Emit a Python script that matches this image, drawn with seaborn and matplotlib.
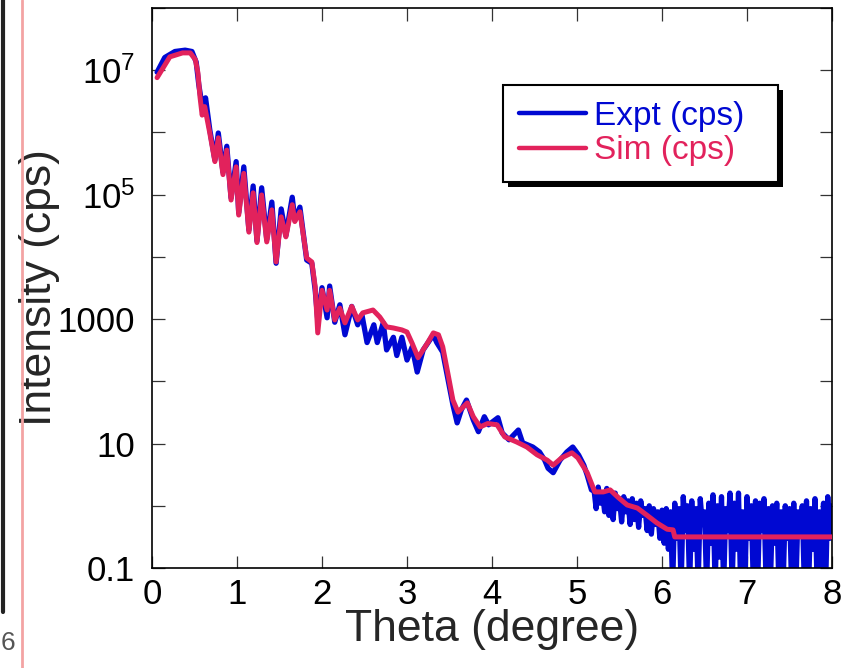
import numpy as np
import pandas as pd
import matplotlib
matplotlib.use("Agg")
import matplotlib.pyplot as plt
import seaborn as sns
from matplotlib.patches import Rectangle
from matplotlib.lines import Line2D
from matplotlib.transforms import IdentityTransform
from matplotlib.ticker import FixedLocator, FixedFormatter

# ---------------- data ----------------
sim_theta = [0.06, 0.21, 0.36, 0.45, 0.51, 0.54, 0.565, 0.59, 0.62, 0.68,
             0.74, 0.78, 0.835, 0.88, 0.93, 0.99, 1.02, 1.08, 1.14, 1.19,
             1.235, 1.29, 1.35, 1.41, 1.46, 1.52, 1.575, 1.65, 1.68, 1.74,
             1.82, 1.88, 1.92, 1.95, 2.00, 2.06, 2.09, 2.15, 2.21, 2.27,
             2.35, 2.42, 2.48, 2.60, 2.68, 2.76, 2.84, 2.94, 3.00, 3.06,
             3.13, 3.24, 3.31, 3.37, 3.42, 3.48, 3.54, 3.60, 3.71, 3.78,
             3.86, 3.95, 4.06, 4.15, 4.29, 4.41, 4.53, 4.65, 4.72, 4.82,
             4.94, 5.01, 5.12, 5.21, 5.31, 5.39, 5.48, 5.59, 5.71, 5.82,
             5.94, 6.06, 6.13, 6.15, 8.00]
sim_cps = [7.6e6, 1.64e7, 1.9e7, 1.9e7, 1.48e7, 9.1e6, 3.7e6, 1.9e6, 2.6e6, 9.8e5,
           3.4e5, 8.2e5, 2.1e5, 5.2e5, 8.2e4, 2.8e5, 4.7e4, 2.2e5, 2.5e4, 1.07e5,
           1.7e4, 9.9e4, 1.74e4, 5.7e4, 8.3e3, 4.4e4, 2.1e4, 6.9e4, 3.7e4, 5.3e4,
           9.6e3, 8.3e3, 3.3e3, 600, 2.9e3, 1.4e3, 2.9e3, 970, 1.5e3, 870,
           1.6e3, 970, 1.26e3, 1.4e3, 1.08e3, 750, 720, 670, 620, 410,
           240, 410, 600, 560, 360, 136, 50, 32, 45, 27,
           18.5, 21, 20, 12.8, 10.6, 8.8, 6.6, 5.4, 4.5, 5.9,
           7.1, 5.9, 3.4, 1.67, 1.67, 1.8, 1.38, 1.03, 0.92, 0.71,
           0.53, 0.42, 0.41, 0.316, 0.316]

expt_theta = [0.06, 0.15, 0.27, 0.39, 0.47, 0.52, 0.55, 0.58, 0.60, 0.63,
              0.68, 0.74, 0.78, 0.835, 0.88, 0.93, 0.99, 1.02, 1.08, 1.14,
              1.19, 1.235, 1.29, 1.35, 1.41, 1.46, 1.52, 1.575, 1.65, 1.68,
              1.74, 1.82, 1.88, 1.92, 1.95, 2.00, 2.06, 2.09, 2.15, 2.21,
              2.27, 2.35, 2.42, 2.47, 2.53, 2.61, 2.65, 2.72, 2.76, 2.84,
              2.88, 2.94, 3.00, 3.06, 3.12, 3.19, 3.31, 3.35, 3.42, 3.48,
              3.54, 3.59, 3.64, 3.70, 3.78, 3.84, 3.91, 3.96, 4.07, 4.12,
              4.20, 4.31, 4.36, 4.48, 4.56, 4.62, 4.66, 4.72, 4.80, 4.88,
              4.95, 5.02, 5.08, 5.12, 5.17]
expt_cps = [9.3e6, 1.6e7, 2.0e7, 2.1e7, 2.0e7, 1.35e7, 5.9e6, 3.3e6, 2.2e6, 3.6e6,
            1.1e6, 3.6e5, 9.8e5, 2.3e5, 6.0e5, 8.9e4, 3.4e5, 5.1e4, 2.8e5, 2.7e4,
            1.38e5, 1.8e4, 1.29e5, 1.9e4, 7.6e4, 7.9e3, 5.9e4, 2.2e4, 9.1e4, 3.9e4,
            6.3e4, 8.9e3, 7.9e3, 2.9e3, 970, 3.2e3, 1.05e3, 3.4e3, 890, 1.7e3,
            560, 1.6e3, 810, 1.17e3, 420, 810, 420, 870, 320, 510,
            260, 510, 220, 355, 141, 320, 560, 420, 295, 112,
            42, 21.5, 35, 50, 24, 15.5, 27, 20, 26, 14.8,
            11.5, 16.5, 10.3, 8.8, 7.3, 5.4, 4.0, 3.4, 5.4, 7.3,
            8.8, 6.5, 4.5, 3.1, 1.8]

# noisy tail of the measurement, one value every 0.025 degree from 5.2 to 8.0
tail_start = 5.2
tail_step = 0.025
expt_tail_cps = [1.8, 0.9, 2.0, 1.1, 1.6, 0.8, 1.9, 0.7, 1.5, 0.6,
                 1.6, 0.9, 1.3, 0.55, 1.4, 0.8, 1.2, 0.5, 1.3, 0.6,
                 1.1, 0.45, 1.2, 0.7, 0.9, 0.4, 1.0, 0.35, 0.9, 0.5,
                 0.8, 0.3, 0.85, 0.25, 0.9, 0.2, 0.8, 0.05, 1.1, 0.3,
                 0.9, 0.05, 1.4, 0.4, 1.0, 0.05, 1.2, 0.2, 0.9, 0.05,
                 1.3, 0.5, 0.8, 0.05, 1.1, 0.25, 1.5, 0.05, 1.0, 0.15,
                 1.4, 0.05, 0.9, 0.4, 1.6, 0.05, 1.1, 0.2, 1.6, 0.05,
                 0.8, 0.05, 1.4, 0.3, 1.0, 0.05, 1.2, 0.05, 1.1, 0.4,
                 1.3, 0.05, 0.9, 0.05, 1.0, 0.25, 1.1, 0.05, 0.8, 0.05,
                 1.0, 0.3, 0.9, 0.05, 1.1, 0.05, 0.8, 0.35, 1.0, 0.05,
                 1.2, 0.05, 0.9, 0.2, 1.3, 0.05, 0.8, 0.05, 1.1, 0.05,
                 1.4, 0.3, 1.0]

x_ticks = [0, 1, 2, 3, 4, 5, 6, 7, 8]
y_ticks = [0.1, 1, 10, 100, 1000, 1e4, 1e5, 1e6, 1e7, 1e8]
y_tick_labels = ["0.1", "", "10", "", "1000", "",
                 r"$\mathregular{10^5}$", "", r"$\mathregular{10^7}$", ""]

BLUE = "#0008D2"
PINK = "#E2225C"

# ---------------- build tables ----------------
tail_theta = np.round(tail_start + tail_step * np.arange(len(expt_tail_cps)), 3)
expt = pd.DataFrame({"theta": list(expt_theta) + list(tail_theta),
                     "cps": list(expt_cps) + list(expt_tail_cps)})
sim = pd.DataFrame({"theta": sim_theta, "cps": sim_cps})

# ---------------- style ----------------
sns.set_style("ticks")
plt.rcParams["font.family"] = ["Liberation Sans", "DejaVu Sans"]
plt.rcParams["mathtext.fontset"] = "custom"
plt.rcParams["mathtext.rm"] = "Liberation Sans"
plt.rcParams["mathtext.it"] = "Liberation Sans:italic"

fig = plt.figure(figsize=(8.5, 6.68), dpi=100)
ax = fig.add_axes([152 / 850, 100 / 668, 680 / 850, 560 / 668])

sns.lineplot(data=expt, x="theta", y="cps", ax=ax, color=BLUE, lw=3.8,
             sort=False, estimator=None, label="Expt (cps)", zorder=2)
sns.lineplot(data=sim, x="theta", y="cps", ax=ax, color=PINK, lw=3.6,
             sort=False, estimator=None, label="Sim (cps)", zorder=3)

ax.set_yscale("log")
ax.set_xlim(0, 8)
ax.set_ylim(0.1, 1e8)
ax.xaxis.set_major_locator(FixedLocator(x_ticks))
ax.set_xticklabels([str(t) for t in x_ticks])
ax.yaxis.set_major_locator(FixedLocator(y_ticks))
ax.yaxis.set_major_formatter(FixedFormatter(y_tick_labels))
ax.yaxis.set_minor_locator(FixedLocator([]))

ax.tick_params(axis="both", which="major", direction="in", length=9,
               width=0.9, color="#333333", top=True, right=True,
               labelsize=25, labelcolor="black")
ax.tick_params(axis="x", pad=7)
ax.tick_params(axis="y", pad=12)
for s in ax.spines.values():
    s.set_visible(True)
    s.set_color("black")
    s.set_linewidth(1.2)

ax.set_xlabel("Theta (degree)", fontsize=32, labelpad=-1)
ax.set_ylabel("Intensity (cps)", fontsize=32)
ax.yaxis.set_label_coords(-0.135, 0.5)

leg = ax.legend(loc="upper left", bbox_to_anchor=(0.516, 0.693, 0.405, 0.1695),
                mode="expand", fontsize=24, frameon=True, fancybox=False,
                shadow=False, framealpha=1, edgecolor="black",
                labelcolor="linecolor", handlelength=2.0, handletextpad=0.25,
                borderpad=0.48, labelspacing=0.1, borderaxespad=0)
leg.get_frame().set_linewidth(1.5)
leg.set_zorder(6)
for h in leg.get_lines():
    h.set_linewidth(3.2)

# drop shadow of the legend box
fig.canvas.draw()
bb = leg.get_frame().get_window_extent(fig.canvas.get_renderer())
ax.add_patch(Rectangle((bb.x0 + 5, bb.y0 - 5), bb.width, bb.height,
                       transform=IdentityTransform(), facecolor="black",
                       edgecolor="none", zorder=5.5, clip_on=False))

# scan artefacts on the left margin of the reference
fig.add_artist(Line2D([2.5 / 850, 2.5 / 850], [1 - 612 / 668, 1.0],
                      transform=fig.transFigure, color="#222222", lw=3))
fig.add_artist(Line2D([22 / 850, 22 / 850], [0, 1], transform=fig.transFigure,
                      color="#F3A3A3", lw=2))
fig.text(1 / 850, 1 - 643 / 668, "6", fontsize=19, color="#555555",
         ha="left", va="center")

fig.savefig("out.png", dpi=100)
